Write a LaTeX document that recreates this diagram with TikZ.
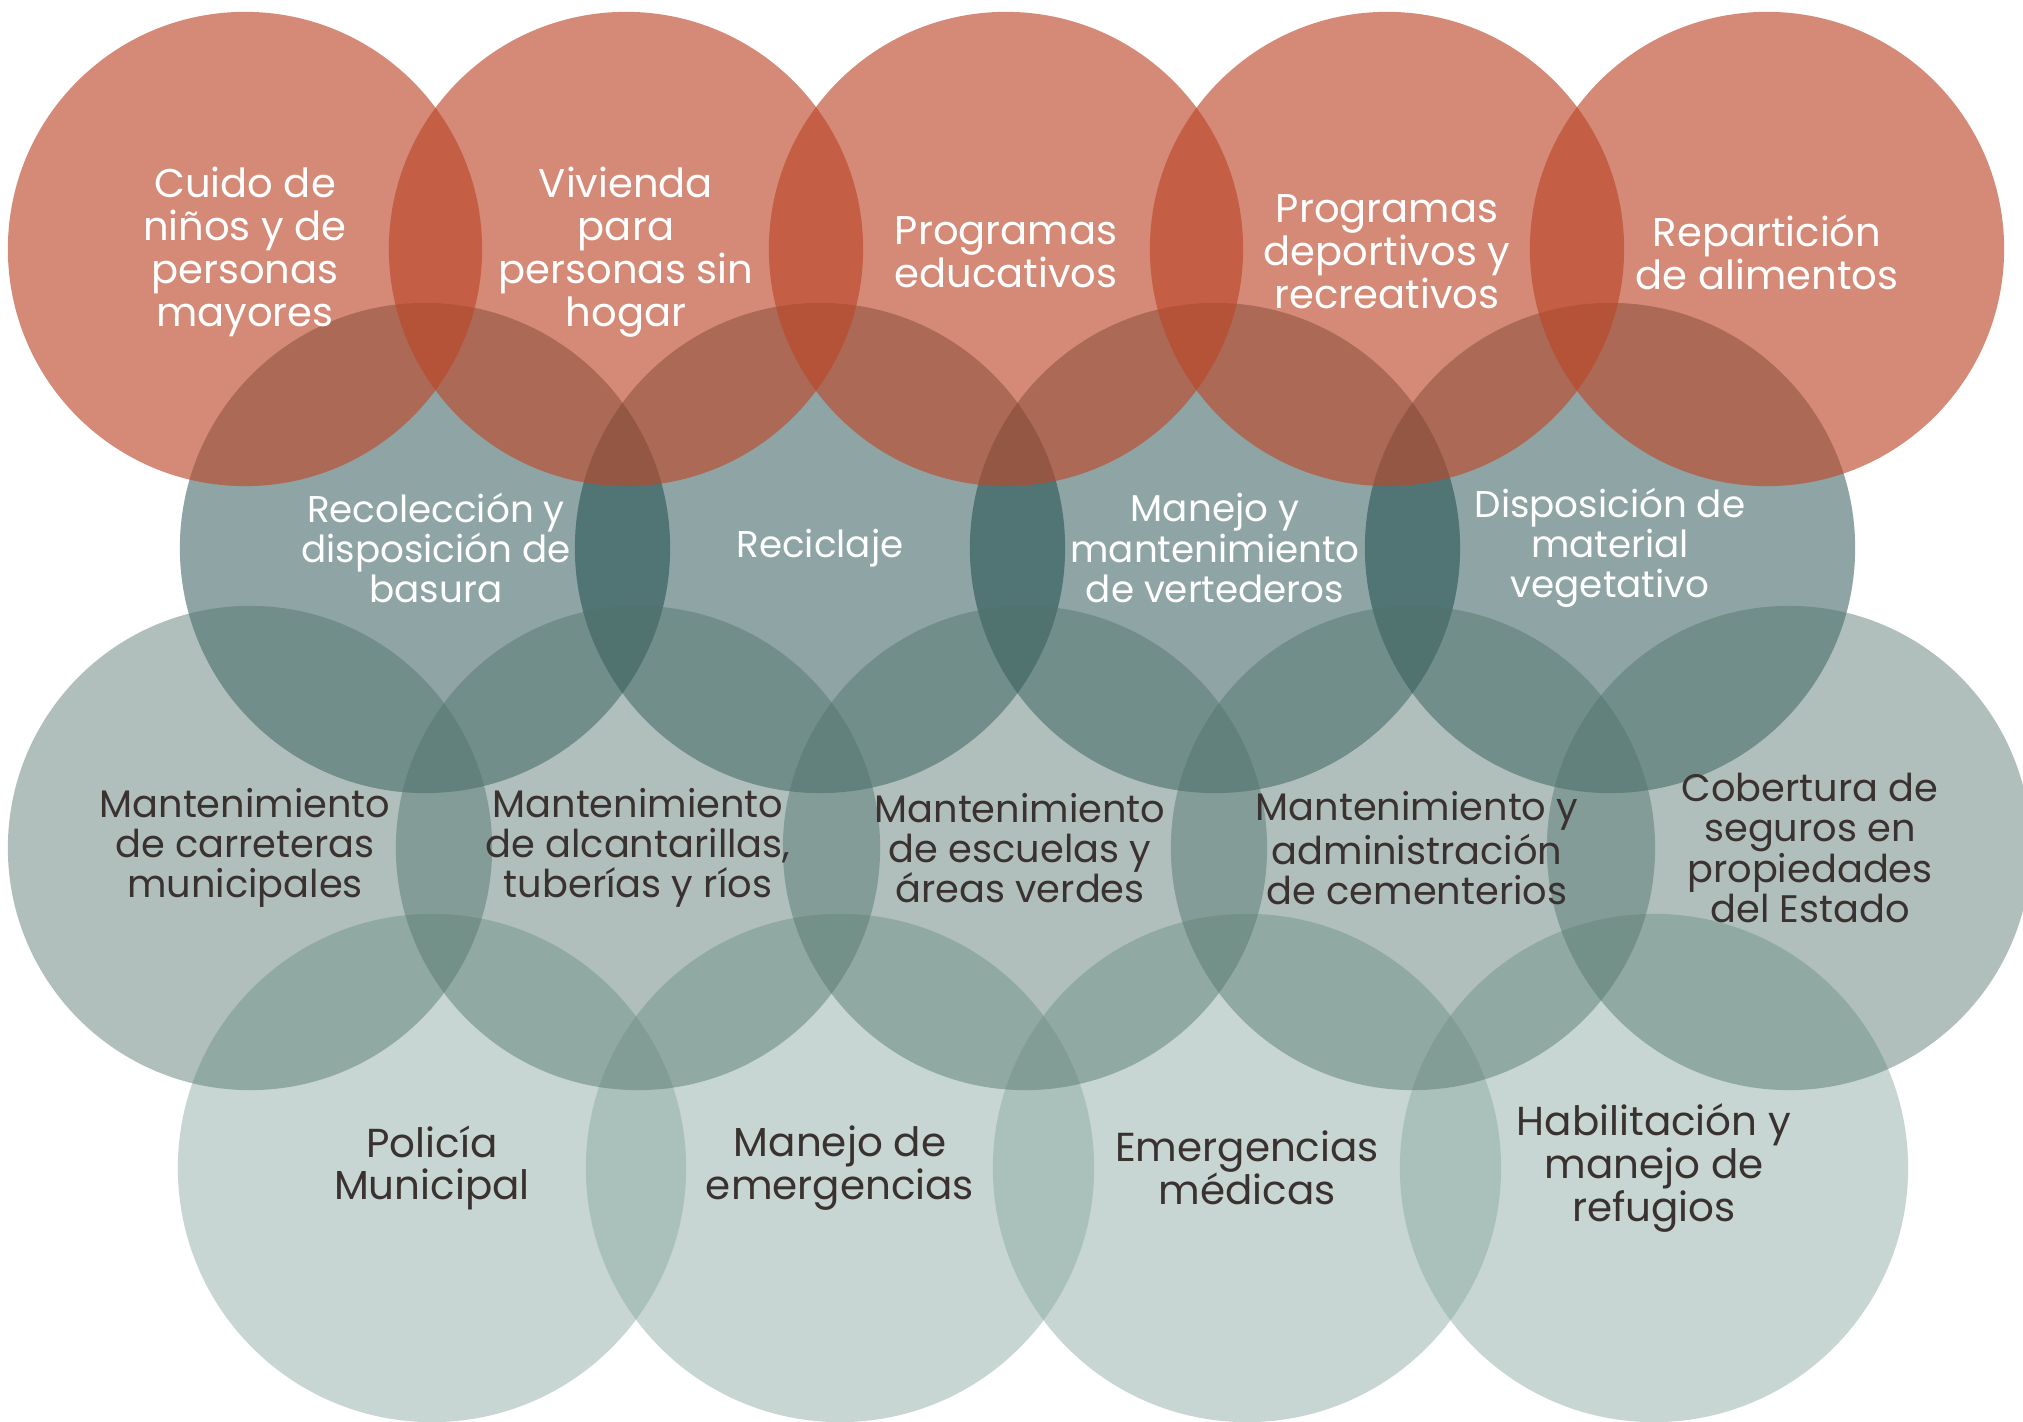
\documentclass[tikz,border=0pt]{standalone}
\usepackage{fontspec}
\setmainfont{Poppins}
\usetikzlibrary{positioning}

\definecolor{rojo}{RGB}{188,71,41}
\definecolor{azulverde}{RGB}{7,57,57}
\definecolor{grisverde}{RGB}{80,115,107}
\definecolor{verdeclaro}{RGB}{140,170,161}
\definecolor{textoscuro}{RGB}{58,50,48}

\tikzset{
  servicio/.style={circle, inner sep=0pt, draw=none},
  fila1/.style={servicio, fill=rojo, fill opacity=0.63, minimum size=4.74cm},
  fila2/.style={servicio, fill=azulverde, fill opacity=0.45, minimum size=4.90cm},
  fila3/.style={servicio, fill=grisverde, fill opacity=0.45, minimum size=4.84cm},
  fila4/.style={servicio, fill=verdeclaro, fill opacity=0.48, minimum size=5.08cm},
  etiqueta/.style={align=center, inner sep=0pt},
  textofila1/.style={etiqueta, text=white, font=\fontsize{11.4pt}{12.25pt}\selectfont},
  textofila2/.style={etiqueta, text=white, font=\fontsize{10.6pt}{11.4pt}\selectfont},
  textofila3/.style={etiqueta, text=textoscuro, font=\fontsize{10.9pt}{11.4pt}\selectfont},
  textofila4/.style={etiqueta, text=textoscuro, font=\fontsize{11.5pt}{12.1pt}\selectfont}
}

\begin{document}
\begin{tikzpicture}[x=0.01cm, y=-0.01cm]

% --- Page frame ---
\path[use as bounding box, clip] (0,0) rectangle (2023,1422);
\fill[white] (0,0) rectangle (2023,1422);

% --- Fila 4 (emergencias) ---
\foreach \n/\x in {1/432, 2/840, 3/1247, 4/1654}
  \node[fila4] (d\n) at (\x, 1168) {};

% --- Fila 2 (residuos) ---
\foreach \n/\x in {1/425, 2/820, 3/1215, 4/1610}
  \node[fila2] (b\n) at (\x, 548) {};

% --- Fila 3 (mantenimiento), over rows 2 and 4 ---
\foreach \n/\x in {1/250, 2/638, 3/1025, 4/1413, 5/1789}
  \node[fila3] (c\n) at (\x, 848) {};

% --- Fila 1 (servicios sociales), on top ---
\foreach \n/\x in {1/245, 2/626, 3/1006, 4/1387, 5/1767}
  \node[fila1] (a\n) at (\x, 249) {};

% --- Labels ---
\foreach \n/\txt in {1/{Cuido de\\niños y de\\personas\\mayores},
    2/{Vivienda\\para\\personas sin\\hogar},
    3/{Programas\\educativos},
    4/{Programas\\deportivos y\\recreativos},
    5/{Repartición\\de alimentos}}
  \node[textofila1] (ta\n) at ([yshift=-0.03cm]a\n) {\txt};

\foreach \n/\dx/\txt in {1/0.11/{Recolección y\\disposición de\\basura},
    2/0/{Reciclaje},
    3/0/{Manejo y\\mantenimiento\\de vertederos},
    4/0/{Disposición de\\material\\vegetativo}}
  \node[textofila2] (tb\n) at ([xshift=\dx cm]b\n) {\txt};

\foreach \n/\dx/\txt in {1/-0.05/{Mantenimiento\\de carreteras\\municipales},
    2/0/{Mantenimiento\\de alcantarillas,\\tuberías y ríos},
    3/-0.05/{Mantenimiento\\de escuelas y\\áreas verdes},
    4/0.04/{Mantenimiento y\\administración\\de cementerios},
    5/0.21/{Cobertura de\\seguros en\\propiedades\\del Estado}}
  \node[textofila3] (tc\n) at ([xshift=\dx cm]c\n) {\txt};

\foreach \n/\txt in {1/{Policía\\Municipal},
    2/{Manejo de\\emergencias},
    3/{Emergencias\\médicas},
    4/{Habilitación y\\manejo de\\refugios}}
  \node[textofila4] (td\n) at (d\n) {\txt};

\end{tikzpicture}
\end{document}
